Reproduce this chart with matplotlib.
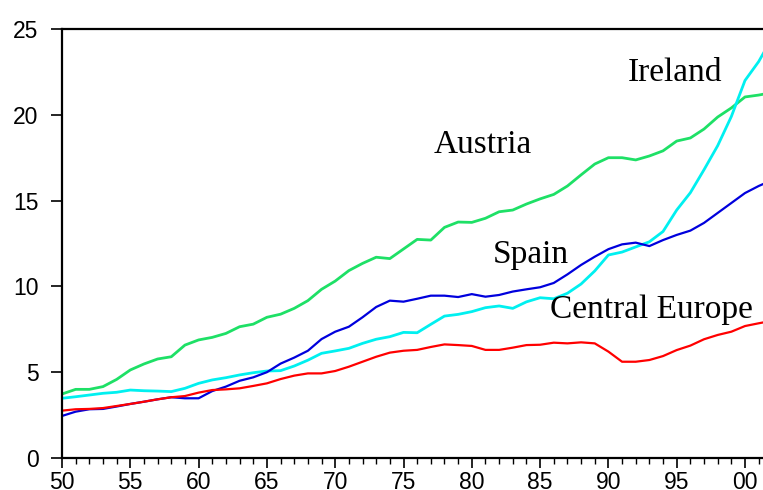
import matplotlib
matplotlib.use('Agg')
import matplotlib.pyplot as plt
from matplotlib.ticker import FixedLocator

years = list(range(1950, 2003))

austria = [3.73, 4.0, 4.0, 4.16, 4.58, 5.13, 5.48, 5.77, 5.9, 6.58,
           6.88, 7.03, 7.26, 7.65, 7.8, 8.2, 8.38, 8.72, 9.17, 9.83,
           10.31, 10.92, 11.34, 11.7, 11.62, 12.18, 12.74, 12.7, 13.44, 13.75,
           13.73, 13.97, 14.35, 14.45, 14.8, 15.1, 15.36, 15.85, 16.5, 17.13,
           17.5, 17.5, 17.37, 17.6, 17.9, 18.47, 18.65, 19.17, 19.87, 20.4,
           21.04, 21.15, 21.3]

ireland = [3.48, 3.57, 3.67, 3.77, 3.83, 3.96, 3.92, 3.9, 3.87, 4.06,
           4.35, 4.55, 4.68, 4.84, 4.97, 5.07, 5.09, 5.36, 5.7, 6.1,
           6.24, 6.39, 6.68, 6.92, 7.07, 7.32, 7.3, 7.79, 8.27, 8.37,
           8.53, 8.76, 8.86, 8.72, 9.1, 9.34, 9.28, 9.6, 10.14, 10.9,
           11.83, 12.0, 12.3, 12.6, 13.2, 14.45, 15.46, 16.8, 18.2, 19.9,
           22.0, 23.1, 24.5]

spain = [2.45, 2.7, 2.84, 2.86, 3.0, 3.15, 3.28, 3.42, 3.54, 3.48,
         3.48, 3.9, 4.16, 4.5, 4.7, 5.0, 5.5, 5.85, 6.25, 6.93,
         7.36, 7.65, 8.2, 8.8, 9.17, 9.11, 9.28, 9.46, 9.46, 9.38,
         9.55, 9.4, 9.5, 9.7, 9.83, 9.95, 10.2, 10.7, 11.25, 11.73,
         12.17, 12.45, 12.55, 12.35, 12.7, 13.0, 13.25, 13.7, 14.28, 14.86,
         15.44, 15.85, 16.2]

central = [2.76, 2.84, 2.86, 2.91, 3.03, 3.15, 3.28, 3.42, 3.54, 3.61,
           3.81, 3.96, 4.0, 4.06, 4.2, 4.35, 4.6, 4.8, 4.93, 4.93,
           5.07, 5.32, 5.61, 5.9, 6.14, 6.25, 6.3, 6.47, 6.62, 6.58,
           6.53, 6.3, 6.3, 6.43, 6.58, 6.6, 6.72, 6.68, 6.74, 6.68,
           6.2, 5.61, 5.61, 5.71, 5.94, 6.29, 6.55, 6.92, 7.17, 7.36,
           7.69, 7.85, 8.0]

x_ticks = [1950, 1955, 1960, 1965, 1970, 1975, 1980, 1985, 1990, 1995, 2000]
x_labels = ['50', '55', '60', '65', '70', '75', '80', '85', '90', '95', '00']

fig = plt.figure(figsize=(7.63, 4.90), dpi=100)
ax = fig.add_axes([62 / 763, 1 - 458 / 490, 1 - 62 / 763, (458 - 29) / 490])

ax.plot(years, austria, color='#1EE066', lw=2.0)
ax.plot(years, ireland, color='#00F0F0', lw=2.0)
ax.plot(years, spain, color='#0000DD', lw=1.6)
ax.plot(years, central, color='#FF0000', lw=1.6)

ax.set_xlim(1950, 1950 + (763 - 62) / 13.66)
ax.set_ylim(0, 25)
ax.set_xticks(x_ticks)
ax.set_xticklabels(x_labels)
ax.xaxis.set_minor_locator(FixedLocator(list(range(1950, 2002))))
ax.set_yticks([0, 5, 10, 15, 20, 25])

for s in ['left', 'top', 'bottom']:
    ax.spines[s].set_linewidth(1.6)
ax.spines['right'].set_visible(False)

ax.tick_params(axis='y', direction='out', length=8, width=1.2, pad=9,
               labelsize=16.5, labelfontfamily='Liberation Sans')
ax.tick_params(axis='x', which='major', direction='out', length=7.5, width=1.2,
               pad=1.5, labelsize=16.5, labelfontfamily='Liberation Sans')
ax.tick_params(axis='x', which='minor', direction='out', length=4, width=1.0)

lab = dict(fontsize=24, family='Liberation Serif', color='black')
ax.text(1991.4, 21.95, 'Ireland', **lab)
ax.text(1977.2, 17.77, 'Austria', **lab)
ax.text(1981.5, 11.36, 'Spain', **lab)
ax.text(1985.7, 8.16, 'Central Europe', **lab)

fig.savefig('out.png', dpi=100)
